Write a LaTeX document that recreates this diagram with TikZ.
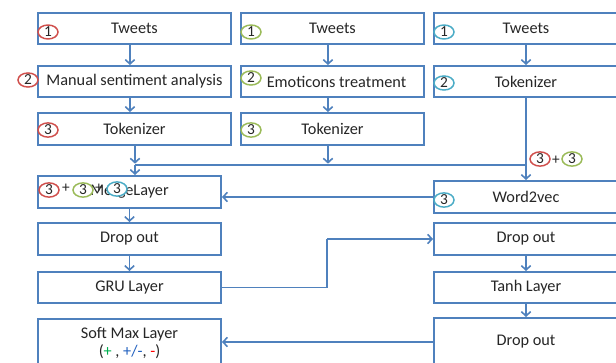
\documentclass[tikz,border=0pt]{standalone}
\usepackage{fontspec}
\setmainfont{Carlito}
\usetikzlibrary{arrows.meta,shapes.geometric}
\definecolor{boxblue}{HTML}{4F81BD}
\definecolor{cred}{HTML}{D0504D}
\definecolor{cgreen}{HTML}{9BBB59}
\definecolor{cblue}{HTML}{4BACC6}
\definecolor{plusgreen}{HTML}{00B050}
\definecolor{minusred}{HTML}{FF0000}
\definecolor{pmblue}{HTML}{1F5FBF}
\begin{document}
\begin{tikzpicture}[x=0.75pt,y=-0.75pt,
  box/.style={draw=boxblue, line width=1.5pt, fill=white, inner sep=0pt, text=black!85,
    font=\fontsize{12.2}{13.5}\selectfont, align=center},
  w1/.style={minimum width=144.75pt},
  w2/.style={minimum width=137.25pt},
  w3/.style={minimum width=138pt},
  w4/.style={minimum width=137.25pt},
  h/.style={minimum height=#1*0.75pt},
  arr/.style={draw=boxblue, line width=1.2pt, -{Straight Barb[length=3.2pt,width=7pt]}},
  ln/.style={draw=boxblue, line width=1.2pt},
  circ/.style={ellipse, draw=#1, fill=white, line width=1.1pt, inner sep=0pt,
    minimum width=15pt, minimum height=10.5pt, text=black!85,
    font=\fontsize{11.5}{12}\selectfont},
  pl/.style={inner sep=0pt, text=black!85, font=\fontsize{11.5}{12}\selectfont}]
\clip (0,0) rectangle (616,363);
\fill[white] (0,0) rectangle (616,363);
% column 1
\node[box,w1,h=31] (t1) at (134.5,28.5) {Tweets};
\node[box,w1,h=31] (m1) at (134.5,81.5) {Manual sentiment analysis};
\node[box,w1,h=32] (k1) at (134.5,129) {Tokenizer};
% column 2
\node[box,w2,h=31] (t2) at (332.5,28.5) {Tweets};
\node[box,w2,h=31] (e2) at (332.5,81.5) {\hspace*{6pt}Emoticons treatment};
\node[box,w2,h=32] (k2) at (332.5,129) {Tokenizer};
% column 3
\node[box,w3,h=31] (t3) at (526,28.5) {Tweets};
\node[box,w3,h=31] (k3) at (526,81.5) {Tokenizer};
% lower left
\node[box,w4,h=32] (merge) at (129.5,192) {MergeLayer};
\node[box,w4,h=32] (d1) at (129.5,239) {Drop out};
\node[box,w4,h=31] (gru) at (129.5,287.5) {GRU Layer};
\node[box,w4,h=48] (soft) at (129.5,343) {Soft Max Layer\\(\textcolor{plusgreen}{+} , \textcolor{pmblue}{+/-}, \textcolor{minusred}{-})};
% lower right
\node[box,w3,h=32] (w2v) at (526,197) {Word2vec};
\node[box,w3,h=32] (d3) at (526,239) {Drop out};
\node[box,w3,h=31] (tanh) at (526,287.5) {Tanh Layer};
\node[box,w3,h=48] (d4) at (526,342) {Drop out};
% junction coordinates
\coordinate (j1) at (135,165);
\coordinate (j2) at (328,165);
\coordinate (j3) at (526,165);
\coordinate (g1) at (327,287.5);
\coordinate (g2) at (327,239);
% connectors
\draw[arr] ([xshift=-3.4pt]t1.south) -- ([xshift=-3.4pt]m1.north);
\draw[arr] ([xshift=-3.4pt]m1.south) -- ([xshift=-3.4pt]k1.north);
\draw[arr] ([xshift=-3.4pt]t2.south) -- ([xshift=-3.4pt]e2.north);
\draw[arr] ([xshift=-3.4pt]e2.south) -- ([xshift=-3.4pt]k2.north);
\draw[arr] (t3.south) -- (k3.north);
\draw[arr] (k1.south -| j1) -- ([yshift=1pt]j1);
\draw[arr] (j1) -- (merge.north -| j1);
\draw[ln] (j1) -- (j3);
\draw[arr] (k2.south -| j2) -- ([yshift=1pt]j2);
\draw[arr] (k3.south) -- (w2v.north);
\draw[arr] (w2v.west) -- (merge.east |- w2v.west);
\draw[arr] (merge.south) -- (d1.north);
\draw[arr] (d1.south) -- (gru.north);
\draw[arr] (d3.south) -- (tanh.north);
\draw[arr] (tanh.south) -- (d4.north);
\draw[ln] (gru.east) -- (g1) -- (g2);
\draw[arr] (g2) -- (d3.west);
\draw[arr] (d4.west) -- (soft.east |- d4.west);
% circled numbers
\node[circ=cred] (r1) at (48,32) {1};
\node[circ=cred] (r2) at (28,80) {2};
\node[circ=cred] (r3) at (48,130) {3};
\node[circ=cgreen] (g1c) at (251,32) {1};
\node[circ=cgreen] (g2c) at (251,78) {2};
\node[circ=cgreen] (g3c) at (251,130) {3};
\node[circ=cblue] (b1) at (444,32) {1};
\node[circ=cblue] (b2) at (444,83) {2};
\node[circ=cred] (mr) at (49,190) {3};
\node[pl] (mp1) at (66,188) {+};
\node[circ=cgreen] (mg) at (83,190) {3};
\node[pl] (mp2) at (99,188) {+};
\node[circ=cblue] (mb) at (117,189) {3};
\node[circ=cred] (sr) at (540,159) {3};
\node[pl] (sp) at (556,160) {+};
\node[circ=cgreen] (sg) at (572,159) {3};
\node[circ=cblue] (wb) at (444,200) {3};
\end{tikzpicture}
\end{document}
